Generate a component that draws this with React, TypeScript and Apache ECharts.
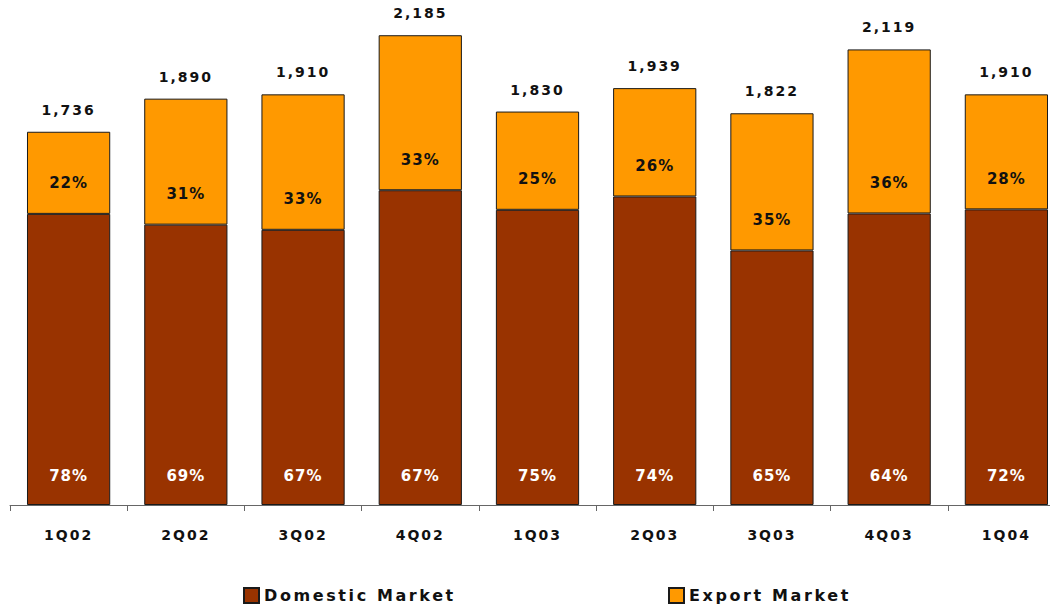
import React, { useEffect, useRef } from "react";
import * as echarts from "echarts";

const categories = ["1Q02", "2Q02", "3Q02", "4Q02", "1Q03", "2Q03", "3Q03", "4Q03", "1Q04"];
const totals = [1736, 1890, 1910, 2185, 1830, 1939, 1822, 2119, 1910];
const domesticShare = [78, 69, 67, 67, 75, 74, 65, 64, 72];
const exportShare = [22, 31, 33, 33, 25, 26, 35, 36, 28];
const domesticValues = [1354, 1304, 1280, 1464, 1373, 1435, 1184, 1356, 1375];
const exportValues = [382, 586, 630, 721, 457, 504, 638, 763, 535];
const totalTopValues = [0, 0, 0, 0, 0, 0, 0, 0, 0];

const FONT = "DejaVu Sans";

export default function App() {
  const ref = useRef<HTMLDivElement>(null);

  useEffect(() => {
    if (!ref.current) return;
    const chart = echarts.init(ref.current, undefined, { renderer: "svg" });
    const legendText = { fontFamily: FONT, fontWeight: "bold", fontSize: 16, color: "#111" };
    chart.setOption({
      animation: false,
      backgroundColor: "#ffffff",
      grid: {
        left: 10,
        top: 10.5,
        width: 1055,
        height: 494.5,
        containLabel: false,
        outerBoundsMode: "none",
      },
      legend: [
        {
          left: 243,
          top: 587,
          padding: 0,
          itemWidth: 15,
          itemHeight: 15,
          itemGap: 0,
          data: ["Domestic Market"],
          textStyle: legendText,
          icon: "rect",
        },
        {
          left: 668,
          top: 587,
          padding: 0,
          itemWidth: 15,
          itemHeight: 15,
          itemGap: 0,
          data: ["Export Market"],
          textStyle: legendText,
          icon: "rect",
        },
      ],
      xAxis: {
        type: "category",
        data: categories,
        axisLine: { lineStyle: { color: "#666", width: 1 } },
        axisTick: { show: true, length: 6, alignWithLabel: false, lineStyle: { color: "#666" } },
        axisLabel: {
          margin: 23,
          fontFamily: FONT,
          fontWeight: "bold",
          fontSize: 14,
          color: "#111",
        },
      },
      yAxis: { type: "value", min: 0, max: 2300, show: false, splitLine: { show: false } },
      series: [
        {
          name: "Domestic Market",
          type: "bar",
          stack: "total",
          data: domesticValues,
          barCategoryGap: "29%",
          itemStyle: { color: "#993300", borderColor: "#1a1a1a", borderWidth: 1 },
          label: {
            show: true,
            position: "insideBottom",
            distance: 22,
            fontFamily: FONT,
            fontWeight: "bold",
            fontSize: 15,
            color: "#ffffff",
            formatter: (p: any) => domesticShare[p.dataIndex] + "%",
          },
        },
        {
          name: "Export Market",
          type: "bar",
          stack: "total",
          data: exportValues,
          itemStyle: { color: "#FF9900", borderColor: "#1a1a1a", borderWidth: 1 },
          label: {
            show: true,
            position: "insideBottom",
            distance: 23,
            fontFamily: FONT,
            fontWeight: "bold",
            fontSize: 15,
            color: "#111",
            formatter: (p: any) => exportShare[p.dataIndex] + "%",
          },
        },
        {
          name: "Total",
          type: "bar",
          stack: "total",
          data: totalTopValues,
          itemStyle: { color: "rgba(0,0,0,0)", borderWidth: 0 },
          silent: true,
          label: {
            show: true,
            position: "top",
            distance: 15,
            fontFamily: FONT,
            fontWeight: "bold",
            fontSize: 14,
            color: "#111",
            formatter: (p: any) => totals[p.dataIndex].toLocaleString("en-US"),
          },
        },
      ],
    });
    return () => chart.dispose();
  }, []);

  return (
    <>
      <style>{`
        #chart-root text { letter-spacing: 2px; }
        #chart-root text[style*="15px"] { letter-spacing: 1px; }
        #chart-root text[style*="16px"] { letter-spacing: 2.6px; }
      `}</style>
      <div
        id="chart-root"
        ref={ref}
        style={{ position: "fixed", left: 0, top: 0, width: 1050, height: 607, background: "#fff" }}
      />
    </>
  );
}
